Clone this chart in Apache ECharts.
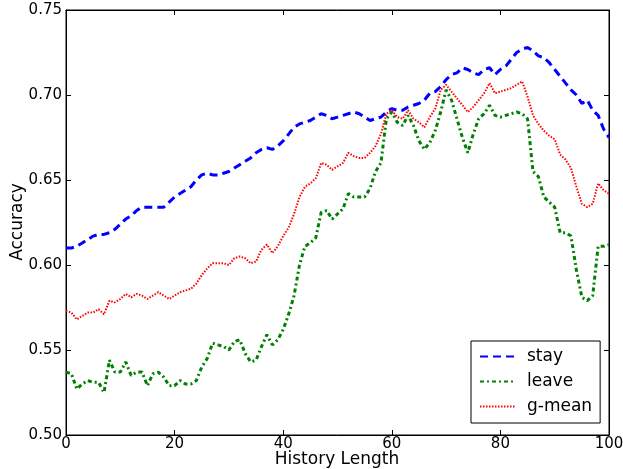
<!DOCTYPE html>
<html>
<head>
<meta charset="utf-8">
<script src="https://cdn.jsdelivr.net/npm/echarts@6/dist/echarts.min.js"></script>
<style>
html,body{margin:0;padding:0;background:#fff;}
#chart{width:623px;height:469px;}
</style>
</head>
<body>
<div id="chart"></div>
<script>
var historyLength = [];
for (var i = 0; i <= 100; i++) historyLength.push(i);

var stay = [0.610,0.610,0.611,0.613,0.615,0.617,0.618,0.618,0.619,0.621,
0.624,0.627,0.629,0.632,0.634,0.634,0.634,0.634,0.634,0.637,
0.640,0.642,0.644,0.646,0.650,0.653,0.654,0.653,0.653,0.654,
0.655,0.657,0.659,0.661,0.663,0.666,0.668,0.669,0.668,0.670,
0.673,0.677,0.681,0.683,0.684,0.685,0.687,0.689,0.688,0.686,
0.687,0.688,0.689,0.690,0.689,0.687,0.685,0.686,0.687,0.690,
0.692,0.691,0.691,0.693,0.694,0.695,0.697,0.701,0.702,0.705,
0.709,0.712,0.713,0.716,0.715,0.713,0.712,0.715,0.716,0.712,
0.715,0.717,0.721,0.725,0.727,0.728,0.726,0.723,0.722,0.719,
0.715,0.711,0.707,0.703,0.700,0.695,0.697,0.691,0.688,0.680,
0.675];

var leave = [0.537,0.536,0.527,0.530,0.532,0.531,0.531,0.525,0.544,0.537,
0.537,0.543,0.535,0.537,0.537,0.529,0.536,0.537,0.534,0.529,
0.529,0.532,0.530,0.530,0.532,0.540,0.545,0.554,0.553,0.552,
0.550,0.555,0.556,0.548,0.543,0.544,0.552,0.559,0.553,0.556,
0.562,0.571,0.582,0.600,0.611,0.613,0.616,0.631,0.632,0.627,
0.630,0.633,0.642,0.640,0.640,0.640,0.645,0.655,0.660,0.686,
0.690,0.684,0.682,0.688,0.682,0.673,0.668,0.672,0.679,0.690,
0.703,0.697,0.686,0.675,0.666,0.677,0.686,0.689,0.694,0.688,
0.687,0.688,0.689,0.690,0.689,0.686,0.655,0.652,0.640,0.637,
0.634,0.619,0.619,0.617,0.597,0.581,0.579,0.582,0.611,0.611,
0.612];

var gmean = [0.573,0.572,0.568,0.570,0.572,0.572,0.574,0.571,0.579,0.578,
0.580,0.583,0.581,0.583,0.582,0.580,0.582,0.584,0.582,0.580,
0.582,0.584,0.585,0.586,0.589,0.594,0.598,0.601,0.601,0.601,
0.600,0.604,0.605,0.604,0.601,0.602,0.609,0.612,0.607,0.611,
0.617,0.622,0.630,0.640,0.646,0.648,0.651,0.660,0.659,0.656,
0.658,0.660,0.666,0.664,0.663,0.663,0.666,0.670,0.677,0.689,
0.691,0.687,0.686,0.691,0.686,0.684,0.681,0.687,0.692,0.703,
0.706,0.702,0.698,0.694,0.690,0.693,0.697,0.701,0.707,0.701,
0.702,0.703,0.704,0.706,0.708,0.699,0.688,0.683,0.679,0.676,
0.674,0.665,0.662,0.657,0.646,0.636,0.634,0.636,0.648,0.644,
0.642];

var yTicks = ['0.50','0.55','0.60','0.65','0.70','0.75'];
var xTicks = ['0','20','40','60','80','100'];
var seriesNames = ['stay','leave','g-mean'];
var xTitle = 'History Length';
var yTitle = 'Accuracy';

function pairs(arr){ return arr.map(function(v,i){ return [historyLength[i], v]; }); }

var font = 'DejaVu Sans';
var chart = echarts.init(document.getElementById('chart'), null, {renderer:'canvas'});
var axisCommon = {
  axisLine:{show:true, onZero:false, lineStyle:{color:'#000', width:1}},
  axisTick:{show:true, inside:true, length:5, lineStyle:{color:'#000', width:1}},
  splitLine:{show:false}
};
chart.setOption({
  animation:false,
  backgroundColor:'#fff',
  grid:{left:66, right:14, top:10, bottom:34, show:true, borderColor:'#000', borderWidth:1,
    containLabel:false, outerBoundsMode:'none'},
  graphic:[
    {type:'text', x:337, y:460, style:{text:xTitle, font:'17px "DejaVu Sans"', fill:'#000', align:'center', verticalAlign:'middle'}},
    {type:'text', x:18, y:222, rotation:Math.PI/2, style:{text:yTitle, font:'17px "DejaVu Sans"', fill:'#000', align:'center', verticalAlign:'middle'}}
  ],
  xAxis:[
    Object.assign({type:'value', min:0, max:100, interval:20, position:'bottom',
      axisLabel:{fontFamily:font, fontSize:15, color:'#000', margin:2,
        formatter:function(v){ return xTicks[Math.round(v/20)]; }}
    }, axisCommon),
    Object.assign({type:'value', min:0, max:100, interval:20, position:'top', axisLabel:{show:false}}, axisCommon)
  ],
  yAxis:[
    Object.assign({type:'value', min:0.50, max:0.75, interval:0.05, position:'left',
      axisLabel:{fontFamily:font, fontSize:15, color:'#000', margin:4,
        formatter:function(v){ return yTicks[Math.round((v-0.5)/0.05)]; }}
    }, axisCommon),
    Object.assign({type:'value', min:0.50, max:0.75, interval:0.05, position:'right', axisLabel:{show:false}}, axisCommon)
  ],
  legend:{
    orient:'vertical', left:471, top:341, width:120,
    backgroundColor:'#fff', borderColor:'#000', borderWidth:1, borderRadius:0,
    padding:[7,8,8,8], itemGap:8, itemWidth:36, itemHeight:18,
    itemStyle:{opacity:0},
    textStyle:{fontFamily:font, fontSize:17, color:'#000', padding:[0,0,0,6]},
    data:seriesNames
  },
  series:[
    {name:seriesNames[0], type:'line', data:pairs(stay), symbol:'none', smooth:false,
      lineStyle:{color:'#0000ff', width:3, type:[8,5]}, itemStyle:{color:'#0000ff'}},
    {name:seriesNames[1], type:'line', data:pairs(leave), symbol:'none', smooth:false,
      lineStyle:{color:'#008000', width:3, type:[4,3,2,3]}, itemStyle:{color:'#008000'}},
    {name:seriesNames[2], type:'line', data:pairs(gmean), symbol:'none', smooth:false,
      lineStyle:{color:'#ff0000', width:2, type:[1.5,1.5]}, itemStyle:{color:'#ff0000'}}
  ]
});
</script>
</body>
</html>
